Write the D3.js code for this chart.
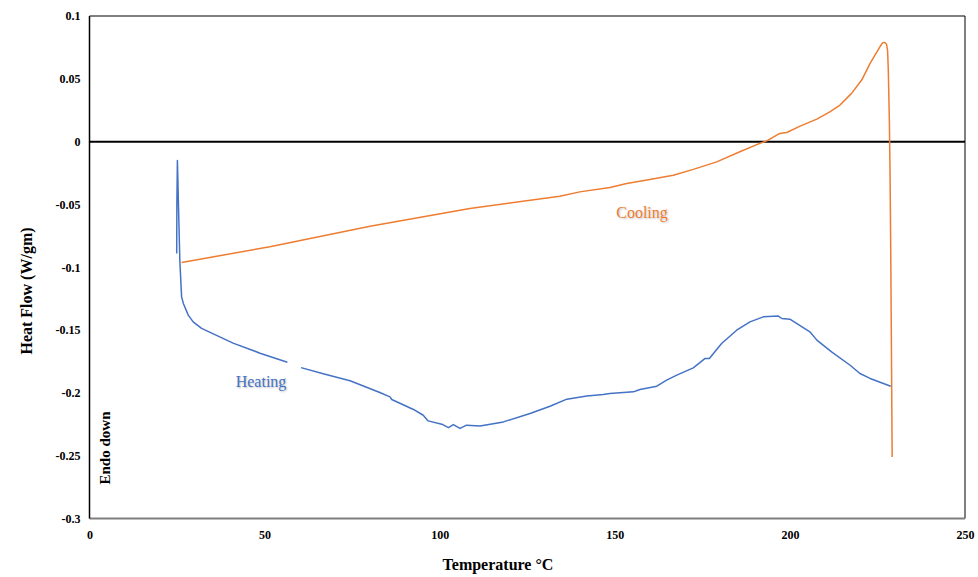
<!DOCTYPE html>
<html>
<head>
<meta charset="utf-8">
<script src="https://cdn.jsdelivr.net/npm/d3@7"></script>
<style>
  html, body { margin: 0; padding: 0; background: #fff; }
  svg text { font-family: "Liberation Serif", "Times New Roman", serif; }
  .series-label { text-shadow: 1px 1px 2px rgba(0, 0, 0, 0.25); }
</style>
</head>
<body>
<div id="chart"></div>
<script>
// Heating scan (blue); null marks the small break in the trace
const heatTemp = [24.9, 24.95, 25.1, 25.4, 25.8, 26.3, 26.8, 28.2, 29.6, 32.0, 41.0, 48.7, 56.5,
  null, 60.4, 67.0, 74.4, 82.9, 85.8, 86.3, 92.5, 95.3, 96.7, 100.6, 102.5, 103.9, 105.8, 107.7,
  111.5, 118.2, 125.8, 131.5, 136.3, 142.0, 146.7, 148.6, 155.3, 157.2, 162.0, 164.8, 167.7,
  172.4, 175.8, 177.0, 180.5, 184.8, 188.6, 192.4, 196.7, 197.7, 200.0, 205.7, 207.7, 211.9,
  217.2, 220.0, 222.9, 228.8];
const heatFlow = [-0.089, -0.05, -0.015, -0.05, -0.095, -0.1236, -0.1288, -0.1381, -0.1435, -0.1487,
  -0.1604, -0.1684, -0.1756, null, -0.1799, -0.1850, -0.1903, -0.1997, -0.2032, -0.2053, -0.2132,
  -0.2178, -0.2223, -0.2249, -0.2276, -0.2252, -0.2283, -0.2257, -0.2263, -0.2231, -0.2164,
  -0.2106, -0.2050, -0.2024, -0.2013, -0.2005, -0.1992, -0.1973, -0.1947, -0.1899, -0.1859,
  -0.1801, -0.1726, -0.1726, -0.1607, -0.1501, -0.1435, -0.1395, -0.1389, -0.1408, -0.1413,
  -0.1514, -0.1580, -0.1674, -0.1780, -0.1846, -0.1885, -0.1947];

// Cooling scan (orange), in recorded order (temperature falling)
const coolTemp = [229.2, 229.0, 228.8, 228.6, 228.4, 228.1, 227.9, 227.6, 227.0, 226.5, 225.7,
  222.9, 220.5, 217.6, 214.3, 211.4, 207.7, 202.9, 199.1, 197.1, 193.4, 191.4, 185.7, 179.1,
  172.4, 166.7, 160.0, 153.4, 148.6, 140.0, 134.3, 108.6, 80.1, 51.5, 26.3];
const coolFlow = [-0.251, -0.168, -0.0888, -0.0253, 0.017, 0.057, 0.072, 0.0775, 0.079, 0.0788,
  0.0755, 0.0623, 0.049, 0.0384, 0.0291, 0.0237, 0.0179, 0.0123, 0.0073, 0.0065, 0.0006,
  -0.0014, -0.0081, -0.0161, -0.0221, -0.0267, -0.0301, -0.0333, -0.0365, -0.0400, -0.0434,
  -0.0532, -0.0673, -0.0837, -0.0962];

const xTicks = [0, 50, 100, 150, 200, 250];
const yTicks = [0.1, 0.05, 0, -0.05, -0.1, -0.15, -0.2, -0.25, -0.3];

const width = 978;
const height = 577;
const plot = { left: 89.5, right: 965, top: 16, bottom: 518.5 };

const svg = d3.select('#chart')
  .append('svg')
  .attr('width', width)
  .attr('height', height);

const x = d3.scaleLinear().domain([0, 250]).range([plot.left, plot.right]);
const y = d3.scaleLinear().domain([-0.3, 0.1]).range([plot.bottom, plot.top]);

// Plot frame: grey on right/bottom, black on left/top
svg.append('line')
  .attr('x1', plot.right).attr('x2', plot.right)
  .attr('y1', plot.top).attr('y2', plot.bottom)
  .attr('stroke', '#7f7f7f').attr('stroke-width', 2);
svg.append('line')
  .attr('x1', plot.left).attr('x2', plot.right)
  .attr('y1', plot.bottom).attr('y2', plot.bottom)
  .attr('stroke', '#7f7f7f').attr('stroke-width', 2);
svg.append('line')
  .attr('x1', plot.left).attr('x2', plot.right)
  .attr('y1', plot.top).attr('y2', plot.top)
  .attr('stroke', '#000').attr('stroke-width', 1.2);

// Axes (labels only, no tick marks)
const fmt = d => String(+d.toFixed(2));

const yAxis = svg.append('g')
  .attr('transform', `translate(${plot.left},0)`)
  .call(d3.axisLeft(y).tickValues(yTicks).tickSize(0).tickPadding(9).tickFormat(fmt));
yAxis.select('.domain').remove();
yAxis.selectAll('text')
  .style('font-family', '"Liberation Serif", serif')
  .style('font-size', '12px')
  .style('font-weight', '700')
  .style('fill', '#000');

const xAxis = svg.append('g')
  .attr('transform', `translate(0,${plot.bottom})`)
  .call(d3.axisBottom(x).tickValues(xTicks).tickSize(0).tickPadding(12).tickFormat(d => d));
xAxis.select('.domain').remove();
xAxis.selectAll('text')
  .style('font-family', '"Liberation Serif", serif')
  .style('font-size', '12px')
  .style('font-weight', '700')
  .style('fill', '#000');

// Left axis line and zero line
svg.append('line')
  .attr('x1', plot.left).attr('x2', plot.left)
  .attr('y1', plot.top).attr('y2', plot.bottom)
  .attr('stroke', '#000').attr('stroke-width', 1.5);
svg.append('line')
  .attr('x1', plot.left).attr('x2', plot.right)
  .attr('y1', y(0)).attr('y2', y(0))
  .attr('stroke', '#000').attr('stroke-width', 2);

// Series
const heatData = heatTemp.map((t, i) => ({ t, f: heatFlow[i] }));
const coolData = coolTemp.map((t, i) => ({ t, f: coolFlow[i] }));

const line = d3.line()
  .defined(d => d.t != null && d.f != null)
  .x(d => x(d.t))
  .y(d => y(d.f));

svg.append('path')
  .datum(heatData)
  .attr('fill', 'none')
  .attr('stroke', '#4472c4')
  .attr('stroke-width', 1.5)
  .attr('stroke-linejoin', 'round')
  .attr('d', line);

svg.append('path')
  .datum(coolData)
  .attr('fill', 'none')
  .attr('stroke', '#ed7d31')
  .attr('stroke-width', 1.5)
  .attr('stroke-linejoin', 'round')
  .attr('d', line);

// Series labels
svg.append('text')
  .attr('class', 'series-label')
  .attr('x', 261).attr('y', 387)
  .attr('text-anchor', 'middle')
  .style('font-size', '16px')
  .style('fill', '#4472c4')
  .text('Heating');

svg.append('text')
  .attr('class', 'series-label')
  .attr('x', 642).attr('y', 218)
  .attr('text-anchor', 'middle')
  .style('font-size', '16px')
  .style('fill', '#ed7d31')
  .text('Cooling');

// Axis titles
svg.append('text')
  .attr('transform', 'translate(32,291) rotate(-90)')
  .attr('text-anchor', 'middle')
  .style('font-size', '16px')
  .style('font-weight', '700')
  .text('Heat Flow (W/gm)');

svg.append('text')
  .attr('x', 498).attr('y', 570)
  .attr('text-anchor', 'middle')
  .style('font-size', '16px')
  .style('font-weight', '700')
  .text('Temperature °C');

svg.append('text')
  .attr('transform', 'translate(110,448) rotate(-90)')
  .attr('text-anchor', 'middle')
  .style('font-size', '15px')
  .style('font-weight', '700')
  .text('Endo down');
</script>
</body>
</html>
